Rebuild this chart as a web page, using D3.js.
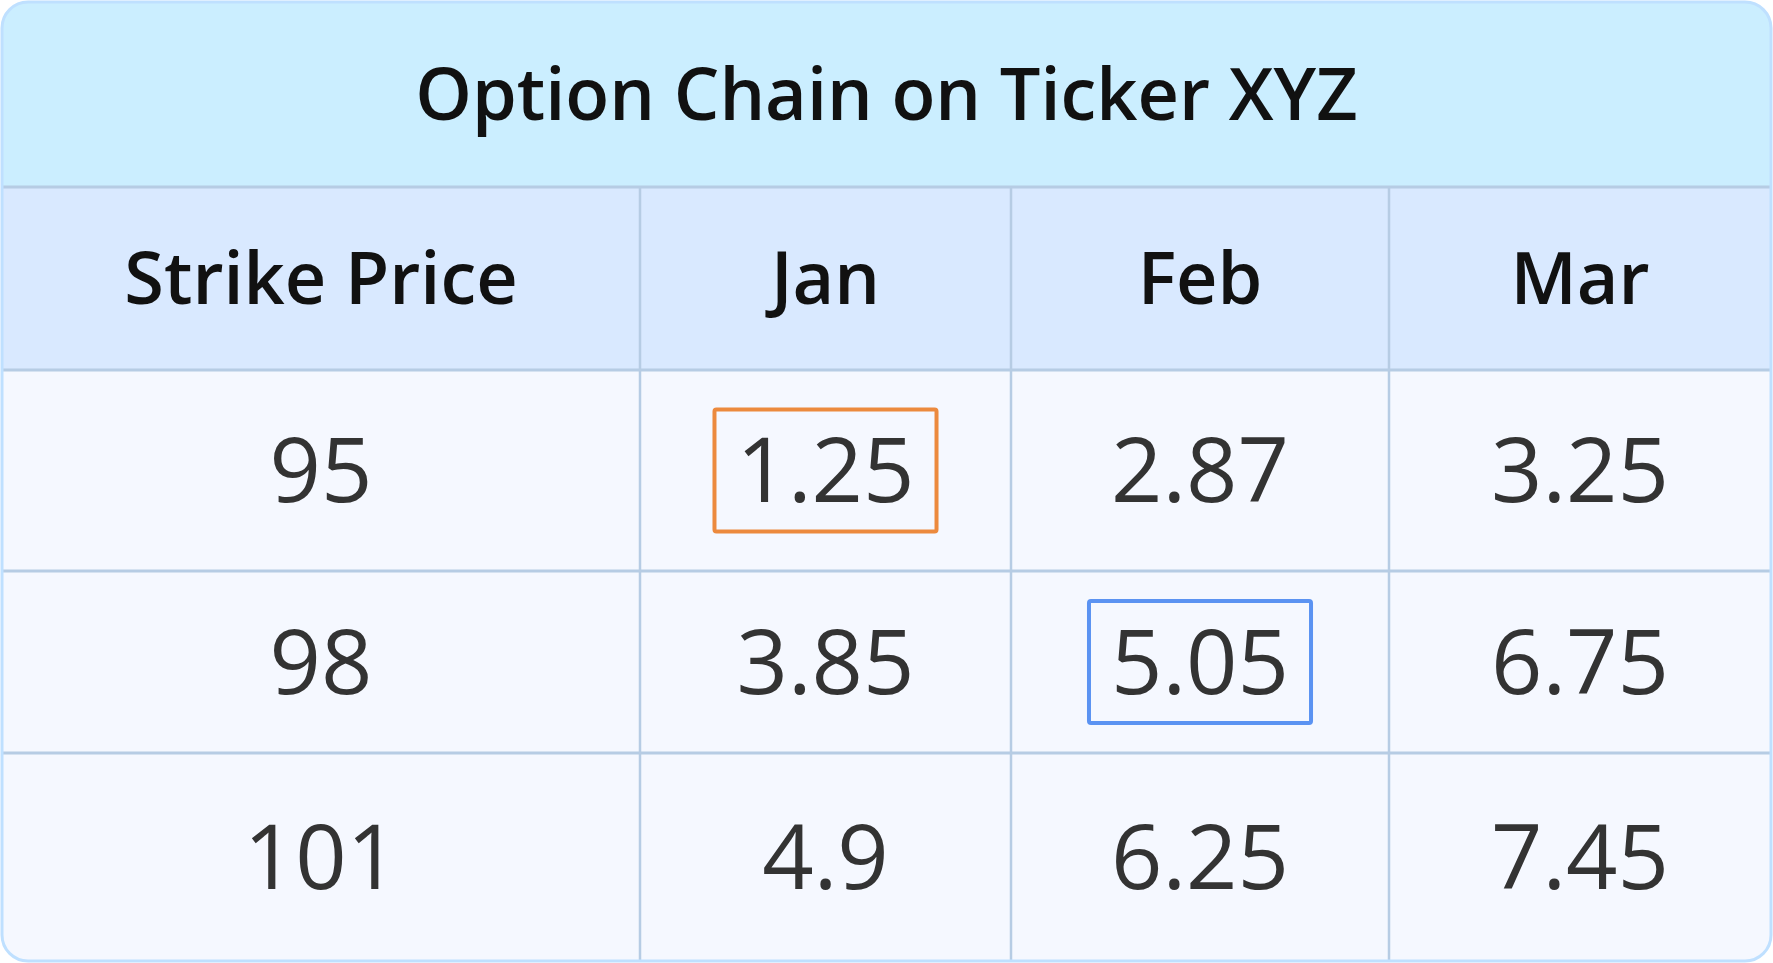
<!DOCTYPE html>
<html><head><meta charset="utf-8">
<script src="https://cdn.jsdelivr.net/npm/d3@7"></script>
<style>body{margin:0;background:#fff}svg{display:block}</style>
</head><body><svg id="chart" width="1773" height="963"></svg>
<script>
const title = 'Option Chain on Ticker XYZ';
const columns = ['Strike Price', 'Jan', 'Feb', 'Mar'];
const strikes = ['95', '98', '101'];
const jan = ['1.25', '3.85', '4.9'];
const feb = ['2.87', '5.05', '6.25'];
const mar = ['3.25', '6.75', '7.45'];
// highlighted cells: [row, col, colour]
const highlights = [[0, 1, '#ec8a3e'], [1, 2, '#5b93f2']];

const W = 1773, H = 963;
const colEdges = [2, 640, 1011, 1389, 1771];
const rowEdges = [2, 187, 370, 571, 753, 961];
const svg = d3.select('#chart');
const font = '"Open Sans", "Noto Sans", sans-serif';

const clip = svg.append('clipPath').attr('id', 'c')
  .append('rect').attr('x', 2).attr('y', 2).attr('width', W - 4).attr('height', H - 4).attr('rx', 26);
const g = svg.append('g').attr('clip-path', 'url(#c)');

// Backgrounds
g.append('rect').attr('x', 0).attr('y', 0).attr('width', W).attr('height', rowEdges[1]).attr('fill', '#cbeeff');
g.append('rect').attr('x', 0).attr('y', rowEdges[1]).attr('width', W).attr('height', rowEdges[2] - rowEdges[1]).attr('fill', '#d9e9ff');
g.append('rect').attr('x', 0).attr('y', rowEdges[2]).attr('width', W).attr('height', H).attr('fill', '#f5f8ff');

// Grid lines
g.selectAll('line.h').data(rowEdges.slice(1, -1)).join('line')
  .attr('x1', 0).attr('x2', W).attr('y1', d => d).attr('y2', d => d)
  .attr('stroke', '#b6cce4').attr('stroke-width', 3);
g.selectAll('line.v').data(colEdges.slice(1, -1)).join('line')
  .attr('x1', d => d).attr('x2', d => d).attr('y1', rowEdges[1]).attr('y2', H)
  .attr('stroke', '#b6cce4').attr('stroke-width', 2.5);

svg.append('rect').attr('x', 2).attr('y', 2).attr('width', W - 4).attr('height', H - 4).attr('rx', 26)
  .attr('fill', 'none').attr('stroke', '#bfe0ff').attr('stroke-width', 3);

const cx = i => (colEdges[i] + colEdges[i + 1]) / 2;
const cy = i => (rowEdges[i] + rowEdges[i + 1]) / 2;

svg.append('text').attr('x', W / 2).attr('y', cy(0)).attr('dy', '0.35em')
  .attr('text-anchor', 'middle').attr('font-family', font).attr('font-size', 72)
  .attr('font-weight', 600).attr('fill', '#111').text(title);

svg.selectAll('text.col').data(columns).join('text').attr('class', 'col')
  .attr('x', (d, i) => cx(i)).attr('y', cy(1)).attr('dy', '0.35em')
  .attr('text-anchor', 'middle').attr('font-family', font).attr('font-size', 72)
  .attr('font-weight', 600).attr('fill', '#111').text(d => d);

const rows = strikes.map((s, i) => [s, jan[i], feb[i], mar[i]]);
const cells = rows.flatMap((r, ri) => r.map((v, ci) => ({v, ri, ci})));
const texts = svg.selectAll('text.cell').data(cells).join('text').attr('class', 'cell')
  .attr('x', d => cx(d.ci)).attr('y', d => cy(d.ri + 2)).attr('dy', '0.35em')
  .attr('text-anchor', 'middle').attr('font-family', font).attr('font-size', 90)
  .attr('fill', '#333').text(d => d.v);

highlights.forEach(([r, c, col]) => {
  const node = texts.filter(d => d.ri === r && d.ci === c).node();
  const b = node.getBBox();
  svg.append('rect').attr('x', b.x - 22).attr('y', cy(r + 2) - 61)
    .attr('width', b.width + 44).attr('height', 122)
    .attr('fill', 'none').attr('stroke', col).attr('stroke-width', 4).attr('rx', 2);
});
</script></body></html>
